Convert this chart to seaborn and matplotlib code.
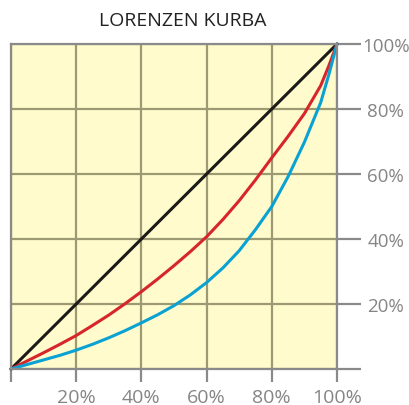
"""Lorenzen kurba - berdintasun lerroa eta bi banaketa."""

import matplotlib
matplotlib.use("Agg")
import matplotlib.pyplot as plt
import pandas as pd
import seaborn as sns
from matplotlib.ticker import FixedLocator, FuncFormatter

# datuak (biztanleria metatua % vs diru-sarrera metatua %)
berdintasuna_x = [0, 100]
berdintasuna_y = [0, 100]
x_kurbak = [0, 5, 10, 15, 20, 25, 30, 35, 40, 45, 50, 55, 60, 65, 70, 75, 80, 85, 90, 95, 97.5, 100]
kurba_gorria = [0, 2.5, 5.0, 7.6, 10.3, 13.4, 16.6, 20.1, 23.8, 27.7, 31.8, 36.1, 40.7,
                46.0, 51.8, 58.2, 65.0, 71.6, 78.6, 87.2, 93.3, 100]
kurba_urdina = [0, 1.4, 2.8, 4.2, 5.8, 7.6, 9.6, 11.8, 14.2, 16.7, 19.5, 22.8, 26.6,
                31.1, 36.4, 42.9, 50.0, 59.2, 69.8, 82.0, 90.6, 100]

x_ticks = [0, 20, 40, 60, 80, 100]
y_ticks = [0, 20, 40, 60, 80, 100]

df = pd.concat([
    pd.DataFrame({"x": berdintasuna_x, "y": berdintasuna_y, "serie": "berdintasuna"}),
    pd.DataFrame({"x": x_kurbak, "y": kurba_gorria, "serie": "gorria"}),
    pd.DataFrame({"x": x_kurbak, "y": kurba_urdina, "serie": "urdina"}),
])
koloreak = {"berdintasuna": "#1c1a18", "gorria": "#d6262b", "urdina": "#0aa1d3"}

sns.set_style("white")
plt.rcParams["font.family"] = ["Open Sans", "DejaVu Sans"]

fig = plt.figure(figsize=(4.10, 4.06), dpi=100)
ax = fig.add_axes([11 / 410, 36 / 406, 326 / 410, 325 / 406])
ax.set_facecolor("#fffbcc")

sns.lineplot(data=df, x="x", y="y", hue="serie", palette=koloreak,
             linewidth=2.2, legend=False, ax=ax, sort=False)
for ln in ax.lines:
    ln.set_clip_on(False)
    ln.set_solid_capstyle("round")
    ln.set_solid_joinstyle("round")

ax.set_xlim(0, 100)
ax.set_ylim(0, 100)
ax.xaxis.set_major_locator(FixedLocator(x_ticks))
ax.yaxis.set_major_locator(FixedLocator(y_ticks))
ax.xaxis.set_major_formatter(FuncFormatter(lambda v, p: "" if v == 0 else f"{v:.0f}%"))
ax.yaxis.set_major_formatter(FuncFormatter(lambda v, p: "" if v == 0 else f"{v:.0f}%"))
ax.yaxis.tick_right()

ax.grid(True, color="#9c9a72", linewidth=1.6)
ax.set_axisbelow(True)
for sp in ax.spines.values():
    sp.set_visible(True)
    sp.set_color("#8a8a8a")
    sp.set_linewidth(1.6)

ax.tick_params(axis="x", direction="out", length=9, width=1.6, color="#8a8a8a",
               labelsize=14, labelcolor="#858585", pad=5, bottom=True)
ax.tick_params(axis="y", direction="out", length=17, width=1.6, color="#8a8a8a",
               labelsize=13.5, labelcolor="#858585", pad=18, right=True, left=False)
for lab in ax.get_yticklabels():
    lab.set_horizontalalignment("center")

ax.set_xlabel("")
ax.set_ylabel("")
fig.text(183 / 410, 1 - 21 / 406, "LORENZEN KURBA", fontsize=14, color="#222222",
         ha="center", va="center")

fig.savefig("out.png", dpi=100)
